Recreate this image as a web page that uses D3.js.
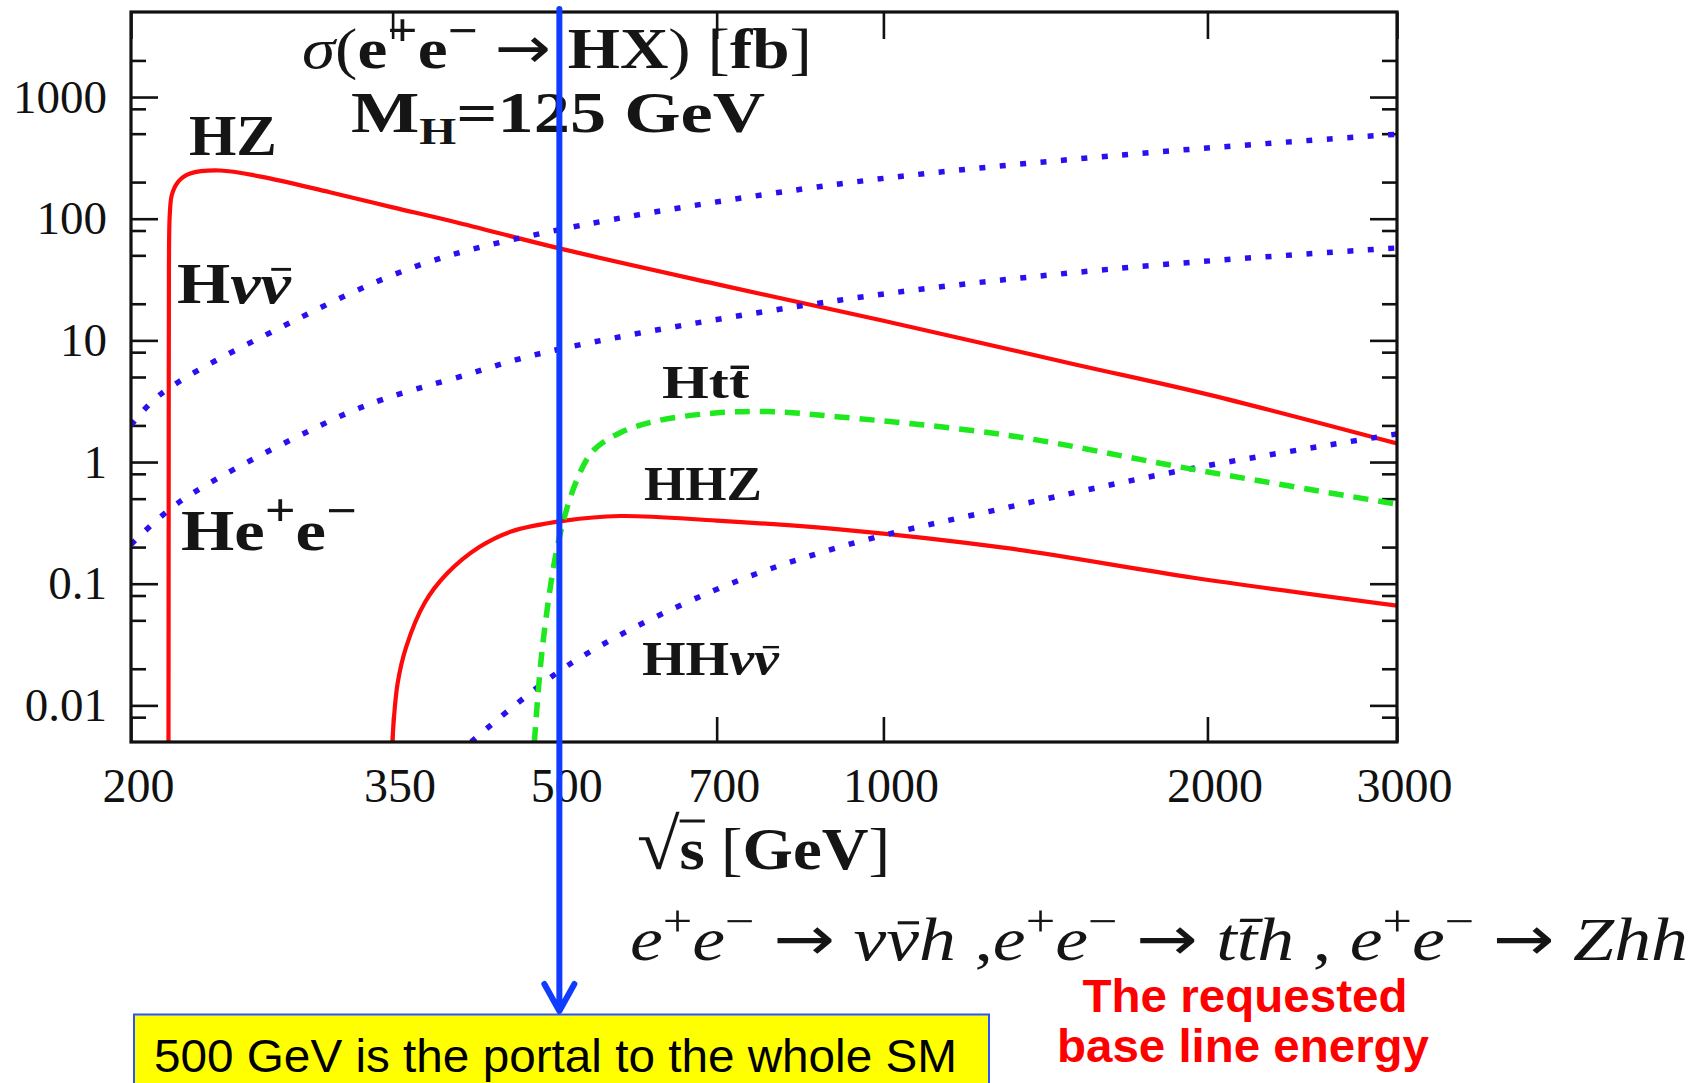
<!DOCTYPE html>
<html>
<head>
<meta charset="UTF-8">
<script src="https://d3js.org/d3.v7.min.js"></script>
<title>sigma(e+e- -> HX)</title>
<style>
  body { margin: 0; background: #fff; }
  svg { display: block; }
</style>
</head>
<body>
<svg></svg>
<script>
const width = 1708, height = 1083;
const frame = {left: 131, right: 1397, top: 12, bottom: 742};

// [sqrt(s) in GeV, sigma in fb]
const hz      = [[216.7,0.005],[216.8,1],[216.9,40],[217.3,108],[218.3,158],[221.3,202],[227,235],[242,249],[264,222],[306,165],[350,124],[400,94],[500,57],[700,29],[1000,14.5],[1500,6.4],[2000,3.6],[3000,1.42]];
const hnunu   = [[200,2.0],[213,3.6],[278,13.3],[369,41],[489,78],[910,193],[1645,331],[3000,495]];
const hee     = [[200,0.21],[222.6,0.48],[305.5,2.16],[343.7,3.3],[400,4.9],[489,8.1],[910,21.4],[1645,38.9],[3000,57.5]];
const htt     = [[474,0.005],[482.6,0.032],[500,0.24],[520,0.74],[538,1.25],[570,1.75],[612,2.15],[687,2.5],[780,2.6],[910,2.35],[1298,1.67],[1941,0.87],[3000,0.45]];
const hhz     = [[349.8,0.005],[353.7,0.015],[360.2,0.03],[375,0.07],[392.8,0.12],[421.3,0.2],[451.8,0.27],[506,0.33],[569,0.36],[700,0.33],[910,0.28],[1298,0.197],[1941,0.112],[3000,0.066]];
const hhnunu  = [[414,0.005],[512,0.022],[694,0.087],[910,0.2],[1298,0.42],[1941,0.89],[3000,1.7]];

const xTickValues = [200, 350, 500, 700, 1000, 2000, 3000];
const xTickLabels = ["200", "350", "500", "700", "1000", "2000", "3000"];
const yTickValues = [1000, 100, 10, 1, 0.1, 0.01];
const yTickLabels = ["1000", "100", "10", "1", "0.1", "0.01"];
const yMinorMult = [2, 5, 8];
const portalEnergy = 500;

const x = d3.scaleLog().domain([200, 3000]).range([frame.left, frame.right]);
const y = d3.scaleLog().domain([0.005, 5000]).range([frame.bottom, frame.top]);

const yMinor = [];
for (let e = -3; e <= 3; e++) yMinorMult.forEach(m => {
  const v = m * Math.pow(10, e);
  if (v > 0.005 && v < 5000) yMinor.push(v);
});

const svg = d3.select("svg").attr("width", width).attr("height", height)
  .attr("viewBox", [0, 0, width, height]);

svg.append("clipPath").attr("id", "plot")
  .append("rect").attr("x", frame.left).attr("y", frame.top)
  .attr("width", frame.right - frame.left).attr("height", frame.bottom - frame.top);

const serif = "'Liberation Serif', 'Times New Roman', serif";
const arrowFont = "'DejaVu Sans', sans-serif";

// axes
const tickStyle = g => g.call(g => g.select(".domain").remove())
  .call(g => g.selectAll(".tick line").attr("stroke", "#111").attr("stroke-width", 2.6));

svg.append("g").attr("transform", `translate(${frame.left},0)`)
  .call(d3.axisLeft(y).tickValues(yTickValues).tickSize(-27).tickPadding(24)
    .tickFormat((d, i) => yTickLabels[i]))
  .call(tickStyle)
  .call(g => g.selectAll("text").attr("font-family", serif).attr("font-size", 47).attr("fill", "#111"));
svg.append("g").attr("transform", `translate(${frame.left},0)`)
  .call(d3.axisLeft(y).tickValues(yMinor).tickSize(-15).tickFormat(""))
  .call(tickStyle);
svg.append("g").attr("transform", `translate(${frame.right},0)`)
  .call(d3.axisRight(y).tickValues(yTickValues).tickSize(-27).tickFormat(""))
  .call(tickStyle);
svg.append("g").attr("transform", `translate(${frame.right},0)`)
  .call(d3.axisRight(y).tickValues(yMinor).tickSize(-15).tickFormat(""))
  .call(tickStyle);

svg.append("g").attr("transform", `translate(0,${frame.bottom})`)
  .call(d3.axisBottom(x).tickValues(xTickValues).tickSize(-25).tickPadding(26)
    .tickFormat((d, i) => xTickLabels[i]))
  .call(tickStyle)
  .call(g => g.selectAll("text").attr("font-family", serif).attr("font-size", 48)
    .attr("fill", "#111").attr("dx", 7));
svg.append("g").attr("transform", `translate(0,${frame.top})`)
  .call(d3.axisTop(x).tickValues(xTickValues).tickSize(-27).tickFormat(""))
  .call(tickStyle);

// curves
const line = d3.line().x(d => x(d[0])).y(d => y(d[1])).curve(d3.curveCatmullRom.alpha(0.5));
const curves = svg.append("g").attr("clip-path", "url(#plot)").attr("fill", "none")
  .attr("stroke-linejoin", "round");

[
  {data: hz, color: "#ff0a0a", w: 4.2, dash: null},
  {data: hhz, color: "#ff0a0a", w: 4.2, dash: null},
  {data: hnunu, color: "#2a10f0", w: 5.5, dash: "6 14.5"},
  {data: hee, color: "#2a10f0", w: 5.5, dash: "6 14.5"},
  {data: hhnunu, color: "#2a10f0", w: 5.5, dash: "6 14.5"},
  {data: htt, color: "#1ee81e", w: 5.5, dash: "15 10"}
].forEach(s => {
  curves.append("path").datum(s.data).attr("d", line)
    .attr("stroke", s.color).attr("stroke-width", s.w)
    .attr("stroke-dasharray", s.dash);
});

// frame
svg.append("rect").attr("x", frame.left).attr("y", frame.top)
  .attr("width", frame.right - frame.left).attr("height", frame.bottom - frame.top)
  .attr("fill", "none").attr("stroke", "#111").attr("stroke-width", 3.2);

// text helper: parts with optional sup / sub / italic / weight / size / bar on top
function rich(x0, y0, parts, attrs, len) {
  const t = svg.append("text").attr("x", x0).attr("y", y0);
  Object.entries(attrs).forEach(([k, v]) => t.attr(k, v));
  const base = +attrs["font-size"];
  let shift = 0, idx = 0;
  const bars = [];
  parts.forEach(p => {
    const s = t.append("tspan").text(p.t);
    const target = p.sup ? -p.sup : (p.sub || 0);
    if (target !== shift) { s.attr("dy", target - shift); shift = target; }
    if (p.size) s.attr("font-size", p.size);
    if (p.it) s.attr("font-style", "italic");
    if (p.w) s.attr("font-weight", p.w);
    if (p.font) s.attr("font-family", p.font);
    if (p.bar) bars.push({i: idx + p.t.length - 1, lvl: p.bar, it: p.it});
    idx += p.t.length;
  });
  if (len) t.attr("textLength", len).attr("lengthAdjust", "spacingAndGlyphs");
  bars.forEach(b => {
    const e = t.node().getExtentOfChar(b.i);
    const a = b.it ? 0.35 : 0.0;
    svg.append("line")
      .attr("x1", e.x + e.width * a).attr("x2", e.x + e.width)
      .attr("y1", y0 - b.lvl * base).attr("y2", y0 - b.lvl * base)
      .attr("stroke", attrs.fill).attr("stroke-width", base * 0.05);
  });
  return t;
}

const bold = {"font-family": serif, "font-weight": "bold", "fill": "#151515"};
rich(302, 68, [
  {t: "σ", it: true, w: "normal"}, {t: "(", w: "normal"}, {t: "e"}, {t: "+", sup: 22, size: 46},
  {t: "e"}, {t: "−", sup: 22, size: 46}, {t: " ", sup: 0}, {t: "→", font: arrowFont, w: "normal"},
  {t: " HX"}, {t: ")", w: "normal"}, {t: " [", w: "normal"}, {t: "fb"}, {t: "]", w: "normal"}
], {...bold, "font-size": 58}, 510);
rich(351, 132, [{t: "M"}, {t: "H", sub: 12, size: 38}, {t: "=125 GeV", sub: 0}],
  {...bold, "font-size": 58}, 414);
rich(189, 155, [{t: "HZ"}], {...bold, "font-size": 58}, 88);
rich(177, 303, [{t: "H"}, {t: "ν", it: true}, {t: "ν", it: true, bar: 0.58}],
  {...bold, "font-size": 58}, 114);
rich(181, 550, [{t: "He"}, {t: "+", sup: 24, size: 46}, {t: "e"}, {t: "−", sup: 24, size: 46}],
  {...bold, "font-size": 58}, 176);
rich(662, 398, [{t: "Htt\u0304"}], {...bold, "font-size": 46}, 87);
rich(644, 500, [{t: "HHZ"}], {...bold, "font-size": 48}, 118);
rich(642, 675, [{t: "HH"}, {t: "ν", it: true}, {t: "ν", it: true, bar: 0.58}],
  {...bold, "font-size": 48}, 137);

rich(637, 869, [
  {t: "√", w: "normal", size: 72}, {t: "s", bar: 0.8}, {t: " [", w: "normal"}, {t: "GeV"}, {t: "]", w: "normal"}
], {...bold, "font-size": 60}, 253);

const sup = {sup: 24, size: 44};
rich(630, 960, [
  {t: "e", it: true}, {t: "+", ...sup}, {t: "e", it: true}, {t: "−", ...sup},
  {t: " ", sup: 0}, {t: "→", font: arrowFont}, {t: " "}, {t: "ν", it: true}, {t: "ν", it: true, bar: 0.6},
  {t: "h", it: true}, {t: " ,"}, {t: "e", it: true}, {t: "+", ...sup}, {t: "e", it: true},
  {t: "−", ...sup}, {t: " ", sup: 0}, {t: "→", font: arrowFont}, {t: " "},
  {t: "tt\u0304h", it: true}, {t: " , "}, {t: "e", it: true}, {t: "+", ...sup},
  {t: "e", it: true}, {t: "−", ...sup}, {t: " ", sup: 0}, {t: "→", font: arrowFont}, {t: " "},
  {t: "Zhh", it: true}
], {"font-family": serif, "font-size": 62, "fill": "#151515"}, 1058);

// yellow box
svg.append("rect").attr("x", 134).attr("y", 1014.5).attr("width", 855).attr("height", 100)
  .attr("fill", "#ffff00").attr("stroke", "#2d55ff").attr("stroke-width", 2);
rich(154, 1072, [{t: "500 GeV is the portal to the whole SM"}],
  {"font-family": "'Liberation Sans', Arial, sans-serif", "font-size": 47, "fill": "#000"}, 803);

const red = {"font-family": "'Liberation Sans', Arial, sans-serif", "font-size": 46,
  "font-weight": "bold", "fill": "#ff0000", "text-anchor": "middle"};
rich(1245, 1012, [{t: "The requested"}], red, 325);
rich(1243, 1062, [{t: "base line energy"}], red, 372);

// vertical marker at 500 GeV with arrow
const xm = x(portalEnergy);
svg.append("path")
  .attr("d", `M${xm},9 L${xm},1010 M${xm - 15},984 L${xm},1011 L${xm + 15},984`)
  .attr("fill", "none").attr("stroke", "#0f3cff").attr("stroke-width", 6)
  .attr("stroke-linecap", "round").attr("stroke-linejoin", "round");
</script>
</body>
</html>
